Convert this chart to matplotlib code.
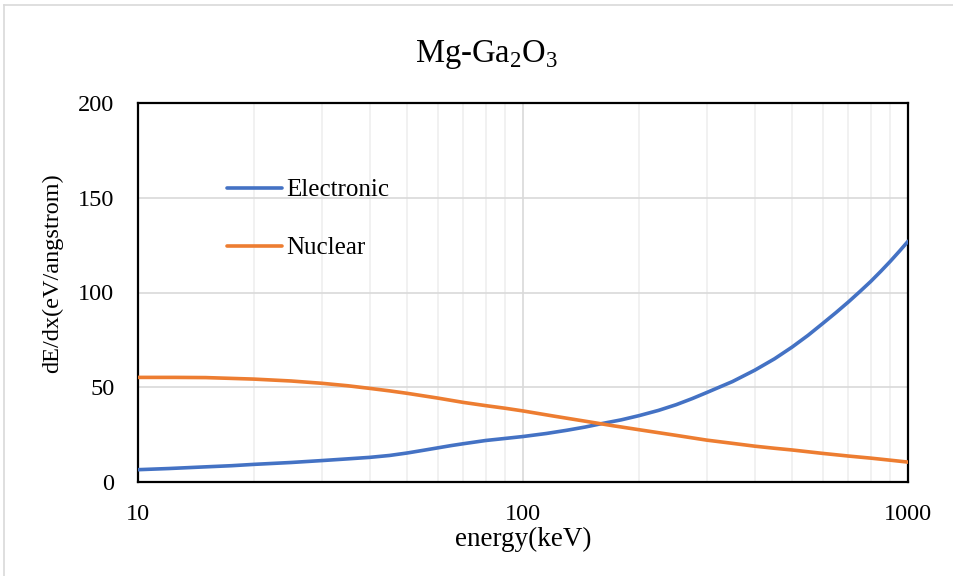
import numpy as np
import matplotlib.pyplot as plt
from matplotlib.lines import Line2D
from matplotlib.ticker import FixedLocator, NullFormatter

plt.rcParams['font.family'] = ['Liberation Serif', 'DejaVu Serif']
plt.rcParams['mathtext.fontset'] = 'custom'
plt.rcParams['mathtext.rm'] = 'Liberation Serif'

# energy (keV) and stopping power
energy_e = [10, 12, 15, 17.5, 20, 25, 30, 35, 40, 45, 50, 55, 60, 65, 70, 80, 90,
            100, 115, 130, 145, 160, 180, 200, 225, 250, 275, 300, 350, 400, 450,
            500, 550, 600, 650, 700, 750, 800, 850, 900, 950, 1000]
electronic = [6.5, 7.1, 8.0, 8.6, 9.3, 10.3, 11.3, 12.2, 13.0, 14.0, 15.3, 16.7,
              18.0, 19.2, 20.2, 21.9, 23.0, 24.0, 25.6, 27.3, 29.0, 30.8, 32.8,
              35.0, 37.8, 40.8, 44.0, 47.2, 53.0, 59.0, 65.0, 71.2, 77.4, 83.6,
              89.4, 95.0, 100.5, 105.8, 111.2, 116.5, 121.8, 127.0]

energy_n = [10, 12.5, 15, 20, 25, 30, 35, 40, 45, 50, 60, 70, 80, 90, 100, 120,
            150, 170, 200, 250, 300, 350, 400, 450, 500, 600, 700, 800, 900, 1000]
nuclear = [55.2, 55.2, 55.1, 54.3, 53.3, 52.1, 50.8, 49.4, 48.1, 46.8, 44.3,
           42.0, 40.3, 38.9, 37.5, 34.8, 31.6, 29.8, 27.6, 24.6, 22.1, 20.4,
           18.9, 17.8, 16.9, 15.1, 13.7, 12.6, 11.5, 10.5]

series_names = ["Electronic", "Nuclear"]
series_colors = ["#4472C4", "#ED7D31"]

fig = plt.figure(figsize=(9.54, 5.76), dpi=100)
ax = fig.add_axes([138/954, 94/576, 770/954, 379/576])

ax.plot(energy_e, electronic, color=series_colors[0], lw=2.6, label=series_names[0],
        solid_capstyle='round', solid_joinstyle='round', zorder=3)
ax.plot(energy_n, nuclear, color=series_colors[1], lw=2.6, label=series_names[1],
        solid_capstyle='round', solid_joinstyle='round', zorder=3)

ax.set_xscale('log')
ax.set_xlim(10, 1000)
ax.set_ylim(0, 200)
ax.xaxis.set_major_locator(FixedLocator([10, 100, 1000]))
ax.set_xticklabels(["10", "100", "1000"])
minors = [m * d for d in (10, 100) for m in range(2, 10)]
ax.xaxis.set_minor_locator(FixedLocator(minors))
ax.xaxis.set_minor_formatter(NullFormatter())
ax.set_yticks([0, 50, 100, 150, 200])

ax.grid(which='major', color='#d9d9d9', lw=1.2, zorder=0)
ax.grid(which='minor', axis='x', color='#efefef', lw=1.2, zorder=0)
ax.set_axisbelow(True)

ax.tick_params(which='both', length=0, labelsize=17.5)
ax.tick_params(axis='x', pad=16)
ax.tick_params(axis='y', pad=17)
for s in ax.spines.values():
    s.set_color('black')
    s.set_linewidth(1.6)

ax.set_xlabel("energy(keV)", fontsize=19.5, labelpad=1)
ax.set_ylabel("dE/dx(eV/angstrom)", fontsize=17.5)
ax.yaxis.set_label_coords(-0.097, 0.551)

fig.text(487/954, 1 - 62/576, r"Mg-Ga$_\mathregular{2}$O$_\mathregular{3}$",
         fontsize=23.5, ha='center', va='baseline')

ax.legend(loc='upper left', bbox_to_anchor=(0.115, 0.80), frameon=False,
          fontsize=18, handlelength=2.2, handletextpad=0.2, labelspacing=1.42,
          borderpad=0, borderaxespad=0)

# chart area border (light gray)
fig.add_artist(Line2D([4/954, 1], [1 - 5/576, 1 - 5/576], color='#d9d9d9', lw=1.2))
fig.add_artist(Line2D([4/954, 4/954], [0, 1 - 5/576], color='#d9d9d9', lw=1.2))

fig.savefig("out.png", dpi=100)
